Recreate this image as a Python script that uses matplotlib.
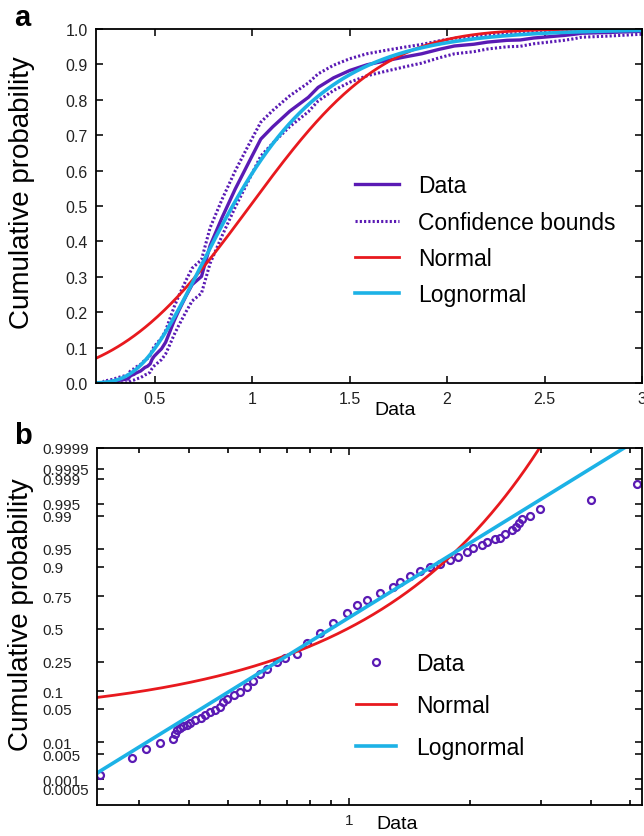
import numpy as np
import matplotlib
matplotlib.use('Agg')
import matplotlib.pyplot as plt
from matplotlib.ticker import FixedLocator, FixedFormatter, NullFormatter
from matplotlib.legend_handler import HandlerLine2D
from statistics import NormalDist
from math import erf

plt.rcParams['font.family'] = ['Liberation Sans', 'DejaVu Sans']

# ---------------- data ----------------
data_x = [0.240, 0.289, 0.312, 0.339, 0.365, 0.369, 0.374, 0.380, 0.387, 0.395,
          0.402, 0.414, 0.428, 0.438, 0.451, 0.464, 0.478, 0.487, 0.498, 0.516,
          0.536, 0.557, 0.578, 0.601, 0.624, 0.661, 0.693, 0.741, 0.785, 0.847,
          0.914, 0.987, 1.045, 1.107, 1.194, 1.289, 1.339, 1.418, 1.502, 1.590,
          1.684, 1.783, 1.870, 1.963, 2.038, 2.138, 2.208, 2.308, 2.375, 2.444,
          2.540, 2.603, 2.652, 2.689, 2.819, 2.987, 3.993, 5.214]
data_p = [0.00138, 0.0041, 0.0068, 0.0093, 0.0118, 0.0150, 0.0184, 0.0210, 0.0229, 0.0243,
          0.0271, 0.0303, 0.0337, 0.0380, 0.0439, 0.0472, 0.0542, 0.0663, 0.0754, 0.0857,
          0.0967, 0.115, 0.144, 0.176, 0.204, 0.245, 0.278, 0.301, 0.388, 0.468,
          0.548, 0.627, 0.689, 0.724, 0.768, 0.807, 0.835, 0.862, 0.883, 0.899,
          0.910, 0.921, 0.930, 0.943, 0.952, 0.957, 0.963, 0.968, 0.969, 0.9745,
          0.979, 0.982, 0.985, 0.988, 0.990, 0.9933, 0.9959, 0.9986]
n_samples = 360

normal_mu, normal_sigma = 0.99, 0.535
logn_mu, logn_sigma = -0.105, 0.452

a_xticks = [0.5, 1, 1.5, 2, 2.5, 3]
a_xticklabels = ['0.5', '1', '1.5', '2', '2.5', '3']
a_yticks = [0.0, 0.1, 0.2, 0.3, 0.4, 0.5, 0.6, 0.7, 0.8, 0.9, 1.0]
a_yticklabels = ['0.0', '0.1', '0.2', '0.3', '0.4', '0.5', '0.6', '0.7', '0.8', '0.9', '1.0']

b_yticks = [0.0005, 0.001, 0.005, 0.01, 0.05, 0.1, 0.25, 0.5, 0.75, 0.9, 0.95,
            0.99, 0.995, 0.999, 0.9995, 0.9999]
b_yticklabels = ['0.0005', '0.001', '0.005', '0.01', '0.05', '0.1', '0.25', '0.5',
                 '0.75', '0.9', '0.95', '0.99', '0.995', '0.999', '0.9995', '0.9999']
b_xmajor = [1]
b_xminor = [0.3, 0.4, 0.5, 0.6, 0.7, 0.8, 0.9, 2, 3, 4, 5]

PURPLE = '#5a1ab4'
RED = '#e8191e'
CYAN = '#1cb2e6'

# ---------------- helpers ----------------
_nd = NormalDist()
_erf = np.vectorize(erf, otypes=[float])
_inv = np.vectorize(_nd.inv_cdf, otypes=[float])


def phi(z):
    return 0.5 * (1.0 + _erf(np.asarray(z, float) / np.sqrt(2.0)))


def probit(p):
    p = np.clip(np.asarray(p, float), 1e-12, 1 - 1e-12)
    return _inv(p)


def normal_cdf(x):
    return phi((np.asarray(x) - normal_mu) / normal_sigma)


def logn_cdf(x):
    return phi((np.log(np.asarray(x)) - logn_mu) / logn_sigma)


class RightMarker(HandlerLine2D):
    def get_xdata(self, legend, xdescent, ydescent, width, height, fontsize):
        xd, xm = super().get_xdata(legend, xdescent, ydescent, width, height, fontsize)
        return xd, np.array([-xdescent + width * 0.92])


dx = np.array(data_x)
dp = np.array(data_p)
half = 1.96 * np.sqrt(dp * (1 - dp) / n_samples)
lo = np.clip(dp - half, 0, 1)
hi = np.clip(dp + half, 0, 1)

fig = plt.figure(figsize=(6.44, 8.37), dpi=100)
W, H = 644.0, 837.0

# ---------------- panel a ----------------
axa = fig.add_axes([96 / W, 1 - 384 / H, (642 - 96) / W, (384 - 30) / H])
xa = np.linspace(0.2, 3.0, 400)
ex = np.concatenate([[dx[0]], dx])
ey = np.concatenate([[0.0], dp])
axa.plot(ex, ey, color=PURPLE, lw=2.4, label='Data')
axa.plot(ex, np.concatenate([[0.0], hi]), color=PURPLE, lw=2.2, ls=(0, (0.7, 0.7)),
         label='Confidence bounds')
axa.plot(ex, np.concatenate([[0.0], lo]), color=PURPLE, lw=2.2, ls=(0, (0.7, 0.7)))
axa.plot(xa, normal_cdf(xa), color=RED, lw=2.0, label='Normal')
axa.plot(xa, logn_cdf(xa), color=CYAN, lw=2.6, label='Lognormal')
axa.set_xlim(0.2, 3.0)
axa.set_ylim(0.0, 1.0)
axa.xaxis.set_major_locator(FixedLocator(a_xticks))
axa.xaxis.set_major_formatter(FixedFormatter(a_xticklabels))
axa.yaxis.set_major_locator(FixedLocator(a_yticks))
axa.yaxis.set_major_formatter(FixedFormatter(a_yticklabels))
axa.tick_params(direction='in', length=5, width=1.3, top=True, right=True,
                labelsize=11.5, pad=6, colors='#222222')
axa.set_xlabel('Data', fontsize=14)
axa.xaxis.set_label_coords(0.548, -0.05)
axa.set_ylabel('Cumulative probability', fontsize=20)
axa.yaxis.set_label_coords(-0.112, 0.54)
for s in axa.spines.values():
    s.set_linewidth(1.3)
axa.legend(loc='upper left', bbox_to_anchor=(0.474, 0.589), frameon=False,
           fontsize=16.5, handlelength=1.95, handletextpad=0.8,
           labelspacing=0.58, borderpad=0, borderaxespad=0)

# ---------------- panel b ----------------
axb = fig.add_axes([97 / W, 1 - 806 / H, (642 - 97) / W, (806 - 449) / H])
axb.set_xscale('log')
axb.set_yscale('function', functions=(probit, phi))
xb = np.exp(np.linspace(np.log(0.236), np.log(5.36), 500))
ptsb, = axb.plot(dx, dp, 'o', mfc='none', mec=PURPLE, ms=5, mew=1.6, label='Data')
nb = np.clip(normal_cdf(xb), 1e-9, 1 - 1e-9)
axb.plot(xb, nb, color=RED, lw=2.0, label='Normal')
axb.plot(xb, logn_cdf(xb), color=CYAN, lw=2.6, label='Lognormal')
axb.set_xlim(0.236, 5.36)
axb.set_ylim(phi(-3.62), 0.9999)
axb.yaxis.set_major_locator(FixedLocator(b_yticks))
axb.yaxis.set_major_formatter(FixedFormatter(b_yticklabels))
axb.yaxis.set_minor_locator(FixedLocator([]))
axb.xaxis.set_major_locator(FixedLocator(b_xmajor))
axb.xaxis.set_major_formatter(FixedFormatter(['1']))
axb.xaxis.set_minor_locator(FixedLocator(b_xminor))
axb.xaxis.set_minor_formatter(NullFormatter())
axb.tick_params(which='major', direction='in', length=5, width=1.3, top=True,
                right=True, labelsize=11, pad=6, colors='#222222')
axb.tick_params(axis='y', which='major', pad=39)
axb.tick_params(which='minor', direction='in', length=3.5, width=1.2, top=True,
                right=True)
for t in axb.get_yticklabels():
    t.set_horizontalalignment('left')
axb.set_xlabel('Data', fontsize=14)
axb.xaxis.set_label_coords(0.55, -0.028)
axb.set_ylabel('Cumulative probability', fontsize=20)
axb.yaxis.set_label_coords(-0.116, 0.535)
for s in axb.spines.values():
    s.set_linewidth(1.3)
axb.legend(loc='upper left', bbox_to_anchor=(0.475, 0.429), frameon=False,
           fontsize=16.5, handlelength=1.75, handletextpad=0.9,
           labelspacing=0.83, borderpad=0, borderaxespad=0,
           handler_map={ptsb: RightMarker()})

fig.text(14 / W, 1 - 18 / H, 'a', fontsize=21, fontweight='bold', va='center', ha='left')
fig.text(14 / W, 1 - 436 / H, 'b', fontsize=21, fontweight='bold', va='center', ha='left')

fig.savefig('out.png', dpi=100)
